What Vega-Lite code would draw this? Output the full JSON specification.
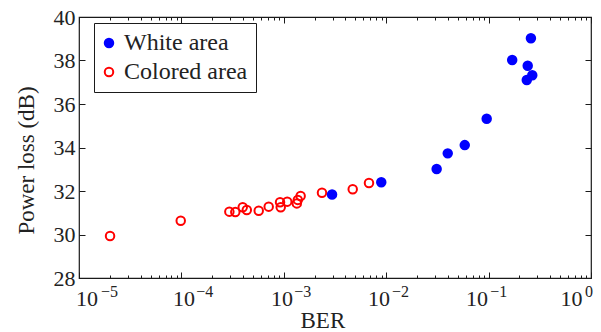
{
  "$schema": "https://vega.github.io/schema/vega-lite/v6.json",
  "autosize": {"type": "none"},
  "width": 512,
  "height": 261,
  "padding": {"left": 79, "top": 17, "right": 10, "bottom": 54},
  "background": "white",
  "config": {
    "view": {"stroke": "#1a1a1a", "strokeWidth": 1.2},
    "font": "'Liberation Serif', 'Times New Roman', serif",
    "axis": {
      "grid": false,
      "domain": false,
      "tickColor": "#1a1a1a",
      "tickWidth": 1,
      "labelColor": "#222222",
      "titleColor": "#222222",
      "labelFont": "'Liberation Serif', 'Times New Roman', serif",
      "titleFont": "'Liberation Serif', 'Times New Roman', serif",
      "labelFontSize": 22,
      "titleFontSize": 23,
      "titleFontWeight": "normal",
      "labelFlush": false,
      "labelOverlap": false
    }
  },
  "data": {
    "values": [
      {"ber": 0.0000201, "loss": 29.93, "area": "Colored area"},
      {"ber": 0.0000985, "loss": 30.63, "area": "Colored area"},
      {"ber": 0.000294, "loss": 31.05, "area": "Colored area"},
      {"ber": 0.000336, "loss": 31.03, "area": "Colored area"},
      {"ber": 0.000397, "loss": 31.25, "area": "Colored area"},
      {"ber": 0.000435, "loss": 31.13, "area": "Colored area"},
      {"ber": 0.000569, "loss": 31.09, "area": "Colored area"},
      {"ber": 0.000712, "loss": 31.28, "area": "Colored area"},
      {"ber": 0.000919, "loss": 31.48, "area": "Colored area"},
      {"ber": 0.000933, "loss": 31.25, "area": "Colored area"},
      {"ber": 0.00108, "loss": 31.51, "area": "Colored area"},
      {"ber": 0.00134, "loss": 31.43, "area": "Colored area"},
      {"ber": 0.00137, "loss": 31.59, "area": "Colored area"},
      {"ber": 0.00146, "loss": 31.77, "area": "Colored area"},
      {"ber": 0.00236, "loss": 31.92, "area": "Colored area"},
      {"ber": 0.00471, "loss": 32.08, "area": "Colored area"},
      {"ber": 0.00679, "loss": 32.37, "area": "Colored area"},
      {"ber": 0.00296, "loss": 31.84, "area": "White area"},
      {"ber": 0.00895, "loss": 32.4, "area": "White area"},
      {"ber": 0.0311, "loss": 33.01, "area": "White area"},
      {"ber": 0.0399, "loss": 33.73, "area": "White area"},
      {"ber": 0.0585, "loss": 34.11, "area": "White area"},
      {"ber": 0.0958, "loss": 35.32, "area": "White area"},
      {"ber": 0.17, "loss": 38.02, "area": "White area"},
      {"ber": 0.241, "loss": 37.76, "area": "White area"},
      {"ber": 0.259, "loss": 39.02, "area": "White area"},
      {"ber": 0.236, "loss": 37.1, "area": "White area"},
      {"ber": 0.267, "loss": 37.32, "area": "White area"}
    ]
  },
  "layer": [
    {
      "mark": {"type": "point", "shape": "circle", "size": 72, "strokeWidth": 2, "opacity": 1},
      "encoding": {
        "x": {
          "field": "ber",
          "type": "quantitative",
          "scale": {"type": "log", "domain": [0.00001, 1]},
          "axis": {
            "orient": "bottom",
            "values": [0.00001, 0.00002, 0.00003, 0.00004, 0.00005, 0.00006, 0.00007, 0.00008, 0.00009,
                       0.0001, 0.0002, 0.0003, 0.0004, 0.0005, 0.0006, 0.0007, 0.0008, 0.0009,
                       0.001, 0.002, 0.003, 0.004, 0.005, 0.006, 0.007, 0.008, 0.009,
                       0.01, 0.02, 0.03, 0.04, 0.05, 0.06, 0.07, 0.08, 0.09,
                       0.1, 0.2, 0.3, 0.4, 0.5, 0.6, 0.7, 0.8, 0.9, 1],
            "tickSize": {"condition": {"test": "abs(log(datum.value)/LN10 - round(log(datum.value)/LN10)) < 1e-6", "value": -6}, "value": -3},
            "labels": false,
            "title": "BER",
            "titleAlign": "left",
            "titleX": 221,
            "titleY": 49,
            "titleBaseline": "alphabetic"
          }
        },
        "y": {
          "field": "loss",
          "type": "quantitative",
          "scale": {"domain": [28, 40]},
          "axis": {
            "orient": "left",
            "values": [28, 30, 32, 34, 36, 38, 40],
            "tickSize": -6,
            "labelPadding": 10,
            "title": "Power loss (dB)",
            "titleX": -53,
            "titleY": 143,
            "titleBaseline": "middle",
            "titleAngle": -90
          }
        },
        "stroke": {
          "field": "area",
          "type": "nominal",
          "scale": {"domain": ["White area", "Colored area"], "range": ["#0000ff", "#ff0000"]},
          "legend": {
            "title": null,
            "orient": "none",
            "legendX": 15,
            "legendY": 6,
            "strokeColor": "#1a1a1a",
            "fillColor": "white",
            "padding": 8,
            "labelFont": "'Liberation Serif', 'Times New Roman', serif",
            "labelFontSize": 24,
            "labelColor": "#222222",
            "symbolType": "circle",
            "symbolSize": 72,
            "symbolStrokeWidth": 2,
            "symbolOffset": -5,
            "labelOffset": 3,
            "rowPadding": 5
          }
        },
        "fill": {
          "field": "area",
          "type": "nominal",
          "scale": {"domain": ["White area", "Colored area"], "range": ["#0000ff", "transparent"]},
          "legend": {
            "title": null,
            "orient": "none",
            "legendX": 15,
            "legendY": 6,
            "strokeColor": "#1a1a1a",
            "fillColor": "white",
            "padding": 8,
            "labelFont": "'Liberation Serif', 'Times New Roman', serif",
            "labelFontSize": 24,
            "labelColor": "#222222",
            "symbolType": "circle",
            "symbolSize": 72,
            "symbolStrokeWidth": 2,
            "symbolOffset": -5,
            "labelOffset": 3,
            "rowPadding": 5
          }
        }
      }
    },
    {
      "mark": {"type": "point", "opacity": 0},
      "encoding": {
        "x": {
          "field": "ber",
          "type": "quantitative",
          "scale": {"type": "log", "domain": [0.00001, 1]},
          "axis": {
            "orient": "top",
            "values": [0.00001, 0.00002, 0.00003, 0.00004, 0.00005, 0.00006, 0.00007, 0.00008, 0.00009,
                       0.0001, 0.0002, 0.0003, 0.0004, 0.0005, 0.0006, 0.0007, 0.0008, 0.0009,
                       0.001, 0.002, 0.003, 0.004, 0.005, 0.006, 0.007, 0.008, 0.009,
                       0.01, 0.02, 0.03, 0.04, 0.05, 0.06, 0.07, 0.08, 0.09,
                       0.1, 0.2, 0.3, 0.4, 0.5, 0.6, 0.7, 0.8, 0.9, 1],
            "tickSize": {"condition": {"test": "abs(log(datum.value)/LN10 - round(log(datum.value)/LN10)) < 1e-6", "value": -6}, "value": -3},
            "labels": false,
            "title": null
          }
        },
        "y": {
          "field": "loss",
          "type": "quantitative",
          "scale": {"domain": [28, 40]},
          "axis": {
            "orient": "right",
            "values": [28, 30, 32, 34, 36, 38, 40],
            "tickSize": -6,
            "labels": false,
            "title": null
          }
        }
      }
    },
    {
      "mark": {"type": "point", "opacity": 0},
      "encoding": {
        "x": {
          "field": "ber",
          "type": "quantitative",
          "scale": {"type": "log", "domain": [0.00001, 1]},
          "axis": {
            "orient": "bottom",
            "values": [0.00001, 0.0001, 0.001, 0.01, 0.1, 1],
            "ticks": false,
            "labelExpr": "'10'",
            "labelAlign": "left",
            "labelBaseline": "alphabetic",
            "labelPadding": 27,
            "labelOffset": {
              "condition": [
                {"test": "datum.value < 0.00005", "value": -3.4},
                {"test": "datum.value < 0.0005", "value": -8.8},
                {"test": "datum.value < 0.005", "value": -13.2},
                {"test": "datum.value < 0.05", "value": -18.6},
                {"test": "datum.value < 0.5", "value": -23}
              ],
              "value": -31
            },
            "title": null
          }
        },
        "y": {"field": "loss", "type": "quantitative", "scale": {"domain": [28, 40]}, "axis": null}
      }
    },
    {
      "mark": {"type": "point", "opacity": 0},
      "encoding": {
        "x": {
          "field": "ber",
          "type": "quantitative",
          "scale": {"type": "log", "domain": [0.00001, 1]},
          "axis": {
            "orient": "bottom",
            "values": [0.00001, 0.0001, 0.001, 0.01, 0.1, 1],
            "ticks": false,
            "labelExpr": "round(log(datum.value)/LN10) == 0 ? '0' : '−' + (-round(log(datum.value)/LN10))",
            "labelFontSize": 16,
            "labelAlign": "left",
            "labelBaseline": "alphabetic",
            "labelPadding": 18,
            "labelOffset": {
              "condition": [
                {"test": "datum.value < 0.00005", "value": 21.5},
                {"test": "datum.value < 0.0005", "value": 14.4},
                {"test": "datum.value < 0.005", "value": 10},
                {"test": "datum.value < 0.05", "value": 5.3},
                {"test": "datum.value < 0.5", "value": 1.2}
              ],
              "value": -6.4
            },
            "title": null
          }
        },
        "y": {"field": "loss", "type": "quantitative", "scale": {"domain": [28, 40]}, "axis": null}
      }
    }
  ],
  "resolve": {"axis": {"x": "independent", "y": "independent"}}
}
